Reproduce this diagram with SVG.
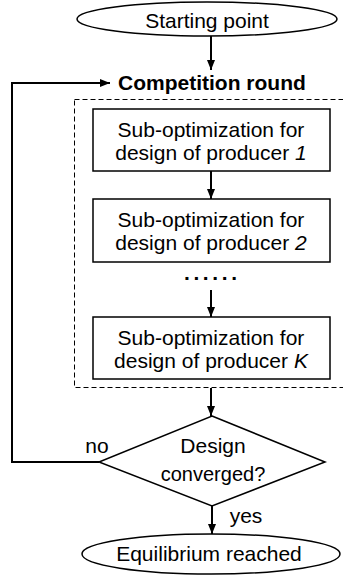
<svg xmlns="http://www.w3.org/2000/svg" width="343" height="575" viewBox="0 0 343 575">
<style>
text{font-family:"Liberation Sans",Arial,Helvetica,sans-serif;font-size:21px;fill:#000}
.c{text-anchor:middle}
.b{font-weight:bold}
.i{font-style:italic}
.shape{fill:#fff;stroke:#000;stroke-width:1.5}
.conn{fill:none;stroke:#000;stroke-width:2}
</style>
<defs>
<marker id="ah" markerUnits="userSpaceOnUse" markerWidth="10" markerHeight="10" viewBox="0 0 10 10" refX="10" refY="5" orient="auto">
<path d="M0,1 L10,5 L0,9 Z" fill="#000"/>
</marker>
</defs>
<rect id="dashed-group" x="74.5" y="99.5" width="275" height="288" fill="none" stroke="#000" stroke-width="1" stroke-dasharray="5 3"/>
<g id="start">
<ellipse class="shape" cx="207" cy="19" rx="130" ry="17"/>
<text class="c" x="207" y="28">Starting point</text>
</g>
<g id="competition">
<text class="b" x="118" y="90">Competition round</text>
</g>
<g id="sub1">
<rect class="shape" x="93" y="109" width="237" height="62"/>
<text class="c" x="211" y="137">Sub-optimization for</text>
<text class="c" x="211" y="160">design of producer <tspan class="i">1</tspan></text>
</g>
<g id="sub2">
<rect class="shape" x="93" y="199" width="237" height="63"/>
<text class="c" x="211" y="227">Sub-optimization for</text>
<text class="c" x="211" y="250">design of producer <tspan class="i">2</tspan></text>
</g>
<g id="dots">
<text class="b" x="184" y="280" letter-spacing="3.6">......</text>
</g>
<g id="subK">
<rect class="shape" x="93" y="317" width="237" height="62"/>
<text class="c" x="211" y="345">Sub-optimization for</text>
<text class="c" x="211" y="368">design of producer <tspan class="i">K</tspan></text>
</g>
<g id="decision">
<path class="shape" d="M212,416 L325,462 L212,506 L99,462 Z"/>
<text class="c" x="213" y="453">Design</text>
<text class="c" x="213" y="481" style="font-size:20px">converged?</text>
</g>
<g id="end">
<ellipse class="shape" cx="211" cy="554" rx="129" ry="20"/>
<text class="c" x="209" y="561">Equilibrium reached</text>
</g>
<g id="connectors">
<line class="conn" x1="211" y1="36" x2="211" y2="70" marker-end="url(#ah)"/>
<polyline class="conn" points="99,462 12,462 12,83 110,83" marker-end="url(#ah)"/>
<line class="conn" x1="211" y1="171" x2="211" y2="199" marker-end="url(#ah)"/>
<line class="conn" x1="211" y1="290" x2="211" y2="317" marker-end="url(#ah)"/>
<line class="conn" x1="211" y1="388" x2="211" y2="416" marker-end="url(#ah)"/>
<line class="conn" x1="212" y1="506" x2="212" y2="534" marker-end="url(#ah)"/>
<text x="97" y="453" class="c">no</text>
<text x="246" y="523" class="c">yes</text>
</g>
</svg>
